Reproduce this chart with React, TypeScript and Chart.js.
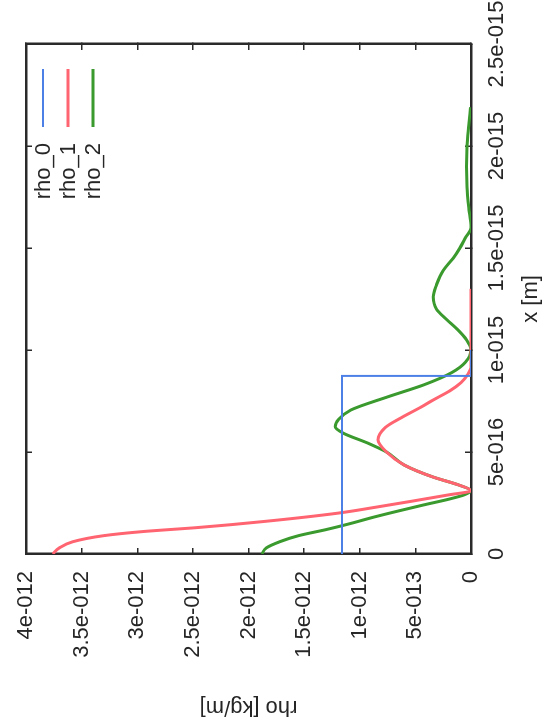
import React, { useEffect, useRef } from "react";
import { Chart, registerables } from "chart.js";

Chart.register(...registerables);

// ---- data (x in metres, rho in kg/m) ----
const X_TICKS = [0, 5e-16, 1e-15, 1.5e-15, 2e-15, 2.5e-15];
const X_TICK_LABELS = ["0", "5e-016", "1e-015", "1.5e-015", "2e-015", "2.5e-015"];
const RHO_TICKS = [0, 5e-13, 1e-12, 1.5e-12, 2e-12, 2.5e-12, 3e-12, 3.5e-12, 4e-12];
const RHO_TICK_LABELS = ["0", "5e-013", "1e-012", "1.5e-012", "2e-012", "2.5e-012", "3e-012", "3.5e-012", "4e-012"];

const SERIES_NAMES = ["rho_0", "rho_1", "rho_2"];

const RHO0_X = [0, 0.873e-15, 0.873e-15, 1.0e-15];
const RHO0_V = [1.16e-12, 1.16e-12, 0, 0];

const RHO1_X = [
  0, 0.03e-15, 0.06e-15, 0.09e-15, 0.11e-15, 0.13e-15, 0.16e-15, 0.2e-15, 0.23e-15, 0.26e-15,
  0.29e-15, 0.31e-15,
  0.34e-15, 0.377e-15, 0.436e-15, 0.5e-15, 0.56e-15, 0.62e-15, 0.67e-15, 0.72e-15, 0.755e-15,
  0.8e-15, 0.84e-15, 0.88e-15, 0.92e-15, 1.0e-15, 1.3e-15,
];
const RHO1_V = [
  3.76e-12, 3.7e-12, 3.58e-12, 3.3e-12, 2.95e-12, 2.45e-12, 1.85e-12, 1.2e-12, 0.85e-12, 0.52e-12,
  0.2e-12, 0,
  0.12e-12, 0.34e-12, 0.6e-12, 0.76e-12, 0.836e-12, 0.77e-12, 0.62e-12, 0.45e-12, 0.34e-12,
  0.19e-12, 0.09e-12, 0.03e-12, 0, 0, 0,
];

const RHO2_X = [
  0, 0.03e-15, 0.06e-15, 0.09e-15, 0.12e-15, 0.15e-15, 0.18e-15, 0.21e-15, 0.24e-15, 0.27e-15,
  0.29e-15, 0.31e-15,
  0.34e-15, 0.377e-15, 0.436e-15, 0.5e-15, 0.544e-15, 0.593e-15, 0.624e-15, 0.66e-15, 0.706e-15,
  0.77e-15, 0.83e-15, 0.89e-15, 0.94e-15, 1.0e-15, 1.05e-15, 1.1e-15, 1.15e-15, 1.2e-15, 1.26e-15,
  1.32e-15, 1.39e-15, 1.45e-15, 1.5e-15, 1.55e-15, 1.6e-15, 1.7e-15, 1.8e-15, 1.9e-15, 2.0e-15,
  2.1e-15, 2.19e-15,
];
const RHO2_V = [
  1.88e-12, 1.84e-12, 1.72e-12, 1.55e-12, 1.3e-12, 1.08e-12, 0.88e-12, 0.66e-12, 0.43e-12, 0.19e-12,
  0.06e-12, 0,
  0.12e-12, 0.34e-12, 0.6e-12, 0.76e-12, 0.93e-12, 1.15e-12, 1.22e-12, 1.19e-12, 1.08e-12,
  0.75e-12, 0.42e-12, 0.17e-12, 0.05e-12, 0, 0.04e-12, 0.12e-12, 0.22e-12, 0.31e-12, 0.34e-12,
  0.31e-12, 0.25e-12, 0.16e-12, 0.1e-12, 0.05e-12, 0, 0.02e-12, 0.035e-12, 0.04e-12, 0.035e-12,
  0.02e-12, 0.005e-12,
];

// ---- styles ----
const FONT_FAMILY = '"Liberation Sans", Arial, Helvetica, sans-serif';
const TEXT_COLOR = "#262626";
const AXIS_COLOR = "#2a2a2a";
const COLORS = ["#4d80e6", "#ff6470", "#3a9a2e"];
const WIDTHS = [2, 3, 3];

const toPoints = (xs: number[], vs: number[]) => xs.map((x, i) => ({ x, y: vs[i] }));

const keyPlugin = {
  id: "gnuplotKey",
  afterDatasetsDraw(chart: any) {
    const { ctx, chartArea } = chart;
    ctx.save();
    ctx.font = `22px ${FONT_FAMILY}`;
    ctx.textAlign = "right";
    ctx.textBaseline = "middle";
    chart.data.datasets.forEach((ds: any, i: number) => {
      const y = chartArea.top + 17 + i * 25;
      ctx.fillStyle = TEXT_COLOR;
      ctx.fillText(ds.label, chartArea.right - 99, y + 1);
      ctx.strokeStyle = ds.borderColor;
      ctx.lineWidth = ds.borderWidth;
      ctx.beginPath();
      ctx.moveTo(chartArea.right - 83, y);
      ctx.lineTo(chartArea.right - 25, y);
      ctx.stroke();
    });
    ctx.restore();
  },
};

export default function App() {
  const ref = useRef<HTMLCanvasElement>(null);

  useEffect(() => {
    document.body.style.margin = "0";
    const font = { family: FONT_FAMILY, size: 22 };
    const grid = {
      drawOnChartArea: false,
      drawTicks: true,
      tickLength: -6,
      color: AXIS_COLOR,
      lineWidth: 1.5,
    };
    const border = { display: true, color: AXIS_COLOR, width: 2.5 };
    const setX = (s: any) => {
      s.ticks = X_TICKS.map((value) => ({ value }));
    };
    const setRho = (s: any) => {
      s.ticks = RHO_TICKS.map((value) => ({ value }));
    };

    const chart = new Chart(ref.current as HTMLCanvasElement, {
      type: "line",
      data: {
        datasets: [
          { label: SERIES_NAMES[0], data: toPoints(RHO0_X, RHO0_V), borderColor: COLORS[0], borderWidth: WIDTHS[0], tension: 0 },
          { label: SERIES_NAMES[1], data: toPoints(RHO1_X, RHO1_V), borderColor: COLORS[1], borderWidth: WIDTHS[1], cubicInterpolationMode: "monotone" },
          { label: SERIES_NAMES[2], data: toPoints(RHO2_X, RHO2_V), borderColor: COLORS[2], borderWidth: WIDTHS[2], cubicInterpolationMode: "monotone" },
        ],
      } as any,
      options: {
        responsive: false,
        animation: false,
        events: [],
        elements: { point: { radius: 0 }, line: { fill: false } },
        layout: { padding: { top: 26, right: 44, bottom: 0, left: 0 } },
        plugins: { legend: { display: false }, tooltip: { enabled: false } },
        scales: {
          x: {
            type: "linear",
            position: "bottom",
            min: 0,
            max: 2.5e-15,
            afterBuildTicks: setX,
            afterFit: (s: any) => {
              s.height = 73;
              s.paddingLeft = 0;
              s.paddingRight = 0;
            },
            ticks: {
              callback: (_v: any, i: number) => X_TICK_LABELS[i],
              font,
              color: TEXT_COLOR,
              padding: 19,
              maxRotation: 0,
              minRotation: 0,
              autoSkip: false,
            },
            grid,
            border,
            title: { display: true, text: "x [m]", font, color: TEXT_COLOR, padding: { top: 0, bottom: 0 } },
          },
          x2: {
            type: "linear",
            position: "top",
            min: 0,
            max: 2.5e-15,
            afterBuildTicks: setX,
            afterFit: (s: any) => {
              s.height = 0;
              s.paddingLeft = 0;
              s.paddingRight = 0;
            },
            ticks: { display: false },
            grid,
            border,
          },
          y: {
            type: "linear",
            position: "left",
            min: 0,
            max: 4e-12,
            afterBuildTicks: setRho,
            afterFit: (s: any) => {
              s.width = 174;
              s.paddingTop = 0;
              s.paddingBottom = 0;
            },
            ticks: {
              callback: (_v: any, i: number) => RHO_TICK_LABELS[i],
              font,
              color: TEXT_COLOR,
              padding: 23,
              autoSkip: false,
            },
            grid,
            border,
            title: { display: true, text: "rho [kg/m]", font, color: TEXT_COLOR, padding: { top: 8, bottom: 0 } },
          },
          y2: {
            type: "linear",
            position: "right",
            min: 0,
            max: 4e-12,
            afterBuildTicks: setRho,
            afterFit: (s: any) => {
              s.width = 0;
              s.paddingTop = 0;
              s.paddingBottom = 0;
            },
            ticks: { display: false },
            grid,
            border,
          },
        },
      } as any,
      plugins: [keyPlugin],
    });

    return () => {
      chart.destroy();
    };
  }, []);

  return (
    <div
      style={{
        position: "fixed",
        left: 0,
        top: 0,
        width: 544,
        height: 728,
        overflow: "hidden",
        background: "#ffffff",
      }}
    >
      <div
        style={{
          position: "absolute",
          left: -92,
          top: 92,
          width: 728,
          height: 544,
          transform: "rotate(-90deg)",
          transformOrigin: "50% 50%",
        }}
      >
        <canvas ref={ref} width={728} height={544} style={{ display: "block", width: 728, height: 544 }} />
      </div>
    </div>
  );
}
